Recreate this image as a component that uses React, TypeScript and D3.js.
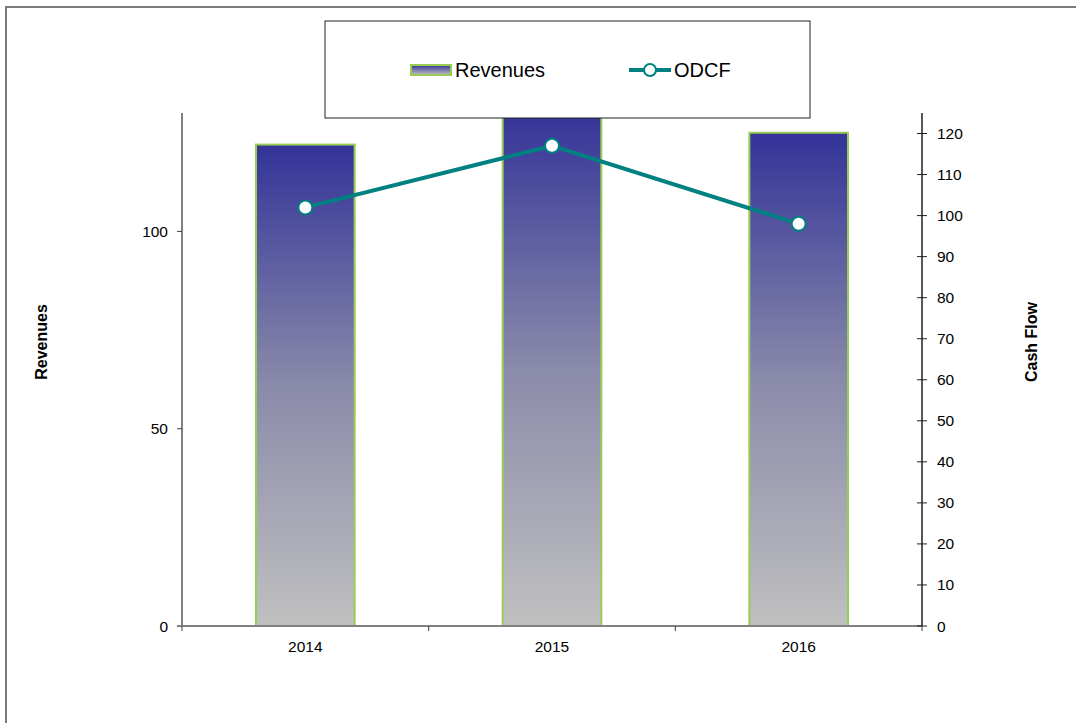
import React from "react";
import * as d3 from "d3";

const categories = ["2014", "2015", "2016"];
const revenues = [122, 131, 125];
const odcf = [102, 117, 98];
const leftTicks = [0, 50, 100];
const rightTicks = [0, 10, 20, 30, 40, 50, 60, 70, 80, 90, 100, 110, 120];

const W = 1076;
const H = 723;
const plot = { left: 182, right: 922, top: 113, bottom: 626 };
const FONT = "'Liberation Sans', Arial, sans-serif";

export default function App() {
  const x = d3
    .scaleBand<string>()
    .domain(categories)
    .range([plot.left, plot.right])
    .padding(0);
  const yL = d3.scaleLinear().domain([0, 130]).range([plot.bottom, plot.top]);
  const yR = d3.scaleLinear().domain([0, 125]).range([plot.bottom, plot.top]);
  const bw = x.bandwidth() * 0.4;
  const cx = (c: string) => (x(c) as number) + x.bandwidth() / 2;

  const line = d3
    .line<number>()
    .x((_, i) => cx(categories[i]))
    .y((d) => yR(d));

  const boundaries = [...categories.map((c) => x(c) as number), plot.right];

  return (
    <svg
      width={W}
      height={H}
      style={{ position: "absolute", left: 0, top: 0, background: "#fff" }}
      fontFamily={FONT}
    >
      <defs>
        <linearGradient id="barGrad" x1="0" y1="0" x2="0" y2="1">
          <stop offset="0" stopColor="#333399" />
          <stop offset="0.5" stopColor="#8a8aaa" />
          <stop offset="1" stopColor="#C0C0C0" />
        </linearGradient>
        <linearGradient id="legGrad" x1="0" y1="0" x2="0" y2="1">
          <stop offset="0" stopColor="#333399" />
          <stop offset="1" stopColor="#C0C0C0" />
        </linearGradient>
        <clipPath id="plotClip">
          <rect
            x={plot.left}
            y={plot.top}
            width={plot.right - plot.left}
            height={plot.bottom - plot.top}
          />
        </clipPath>
      </defs>

      {/* outer frame */}
      <rect x={6} y={7} width={1200} height={900} fill="none" stroke="#7a7a7a" strokeWidth={2} />

      {/* bars */}
      <g clipPath="url(#plotClip)">
        {categories.map((c, i) => (
          <rect
            key={c}
            x={cx(c) - bw / 2}
            y={yL(revenues[i])}
            width={bw}
            height={plot.bottom - yL(revenues[i])}
            fill="url(#barGrad)"
            stroke="#99CC55"
            strokeWidth={2}
          />
        ))}
      </g>

      {/* left axis */}
      <line x1={plot.left} y1={plot.top} x2={plot.left} y2={plot.bottom} stroke="#808080" strokeWidth={2} />
      {leftTicks.map((t) => (
        <g key={t}>
          <line x1={plot.left - 5} x2={plot.left} y1={yL(t)} y2={yL(t)} stroke="#404040" strokeWidth={1} />
          <text x={168} y={yL(t)} textAnchor="end" dominantBaseline="central" fontSize={15.5} fill="#000">
            {t}
          </text>
        </g>
      ))}

      {/* bottom axis */}
      <line x1={plot.left - 5} y1={plot.bottom} x2={plot.right} y2={plot.bottom} stroke="#808080" strokeWidth={2} />
      {boundaries.map((b, i) => (
        <line key={i} x1={b} x2={b} y1={plot.bottom} y2={plot.bottom + 5} stroke="#404040" strokeWidth={1} />
      ))}
      {categories.map((c) => (
        <text key={c} x={cx(c)} y={646} textAnchor="middle" dominantBaseline="central" fontSize={15.5} fill="#000">
          {c}
        </text>
      ))}

      {/* right axis */}
      <line x1={plot.right} y1={plot.top} x2={plot.right} y2={plot.bottom} stroke="#202020" strokeWidth={1.5} />
      {rightTicks.map((t) => (
        <g key={t}>
          <line x1={plot.right - 5} x2={plot.right + 5} y1={yR(t)} y2={yR(t)} stroke="#202020" strokeWidth={1} />
          <text x={937} y={yR(t)} textAnchor="start" dominantBaseline="central" fontSize={15.5} fill="#000">
            {t}
          </text>
        </g>
      ))}

      {/* ODCF line */}
      <path d={line(odcf) || ""} fill="none" stroke="#008080" strokeWidth={4} />
      {odcf.map((v, i) => (
        <circle key={i} cx={cx(categories[i])} cy={yR(v)} r={7} fill="#fff" stroke="#008080" strokeWidth={2} />
      ))}

      {/* axis titles */}
      <text
        transform={`translate(47,342) rotate(-90)`}
        textAnchor="middle"
        fontSize={16}
        fontWeight="bold"
        fill="#000"
      >
        Revenues
      </text>
      <text
        transform={`translate(1037,342) rotate(-90)`}
        textAnchor="middle"
        fontSize={16}
        fontWeight="bold"
        fill="#000"
      >
        Cash Flow
      </text>

      {/* legend */}
      <rect x={325} y={21} width={485} height={97} fill="#fff" stroke="#222" strokeWidth={1} />
      <rect x={411} y={65} width={40} height={10} fill="url(#legGrad)" stroke="#99CC55" strokeWidth={2} />
      <text x={455} y={70} dominantBaseline="central" fontSize={20} fill="#000">
        Revenues
      </text>
      <line x1={629} x2={671} y1={70} y2={70} stroke="#008080" strokeWidth={4} />
      <circle cx={650} cy={70} r={6} fill="#fff" stroke="#008080" strokeWidth={2} />
      <text x={674} y={70} dominantBaseline="central" fontSize={20} fill="#000">
        ODCF
      </text>
    </svg>
  );
}
